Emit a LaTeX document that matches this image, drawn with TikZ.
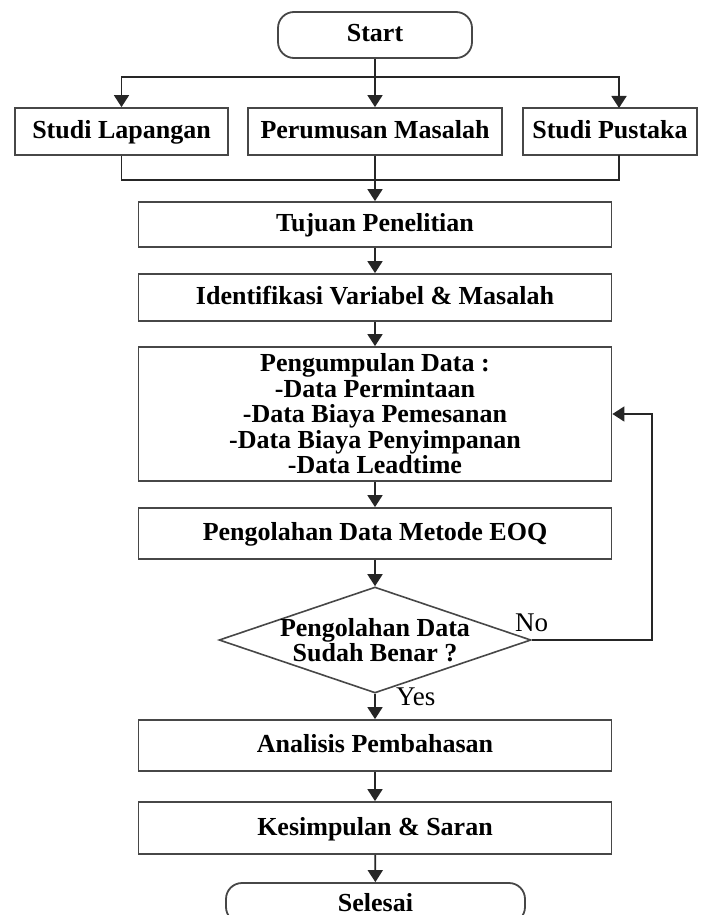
\documentclass[tikz,border=0pt]{standalone}
\usepackage{fontspec}
\setmainfont{Liberation Serif}
\usetikzlibrary{arrows.meta,shapes.geometric,calc}
\begin{document}
\begin{tikzpicture}[x=1pt,y=-1pt,
  ln/.style={line width=1.8pt, draw=black!85},
  arr/.style={ln, -{Triangle[width=15pt,length=12pt]}},
  box/.style={draw=black!72, line width=1.8pt, fill=white, inner sep=0pt, align=center,
    font=\fontsize{26}{25.5}\selectfont\bfseries},
  one/.style={text height=16pt, text depth=2pt},
  wide/.style={minimum width=473pt},
  term/.style={box, rounded corners=16pt},
  dia/.style={draw=black!72, line width=1.6pt, shape=diamond, inner sep=0pt,
    minimum width=312pt, minimum height=106pt},
  txt/.style={inner sep=0pt, align=center, font=\fontsize{26}{25.5}\selectfont\bfseries},
  lbl/.style={inner sep=0pt, font=\fontsize{27}{27}\selectfont}
]
\useasboundingbox (0,0) rectangle (703,915);
\clip (0,0) rectangle (703,915);
\fill[white] (0,0) rectangle (703,915);

\node[term, one, minimum width=194pt, minimum height=46pt] (start) at (375,35) {Start};
\node[box, one, minimum width=213pt, minimum height=47pt] (sl) at (121.5,131.5) {Studi Lapangan};
\node[box, one, minimum width=254pt, minimum height=47pt] (pm) at (375,131.5) {Perumusan Masalah};
\node[box, one, minimum width=174pt, minimum height=47pt] (sp) at (610,131.5) {Studi Pustaka};
\node[box, one, wide, minimum height=45pt] (tp) at (375,224.5) {Tujuan Penelitian};
\node[box, one, wide, minimum height=47pt] (iv) at (375,297.5) {Identifikasi Variabel \& Masalah};
\node[box, wide, minimum height=134pt] (pd) at (375,414) {Pengumpulan Data :\\-Data Permintaan\\-Data Biaya Pemesanan\\-Data Biaya Penyimpanan\\-Data Leadtime};
\node[box, one, wide, minimum height=51pt] (po) at (375,533.5) {Pengolahan Data Metode EOQ};
\node[dia] (dc) at (375,640) {};
\node[txt] (dct) at (375,640) {Pengolahan Data\\Sudah Benar ?};
\node[box, one, wide, minimum height=51pt] (ap) at (375,745.5) {Analisis Pembahasan};
\node[box, one, wide, minimum height=52pt] (ks) at (375,828) {Kesimpulan \& Saran};
\node[term, minimum width=299pt, minimum height=40pt, text height=17pt, text depth=1pt] (fin) at (375.5,903) {Selesai};

\node[lbl, anchor=west] (no) at (515,623) {No};
\node[lbl, anchor=west] (yes) at (396,697) {Yes};

\coordinate (j1) at (375,77);
\coordinate (spN) at (619,108);
\coordinate (spS) at (619,155);
\coordinate (j2) at (375,180);
\coordinate (fb) at (652,640);

\draw[arr] (start) -- (pm);
\draw[arr] (j1) -| (sl.north);
\draw[arr] (j1) -| (spN);
\draw[ln] (sl.south) |- (j2) -| (spS);
\draw[arr] (pm) -- (tp);
\draw[arr] (tp) -- (iv);
\draw[arr] (iv) -- (pd);
\draw[arr] (pd) -- (po);
\draw[arr] (po) -- (dc);
\draw[arr] (dc) -- (ap);
\draw[arr] (ap) -- (ks);
\draw[arr] (ks) -- (fin);
\draw[arr] (dc.east) -- (fb) |- (pd.east);
\end{tikzpicture}
\end{document}
